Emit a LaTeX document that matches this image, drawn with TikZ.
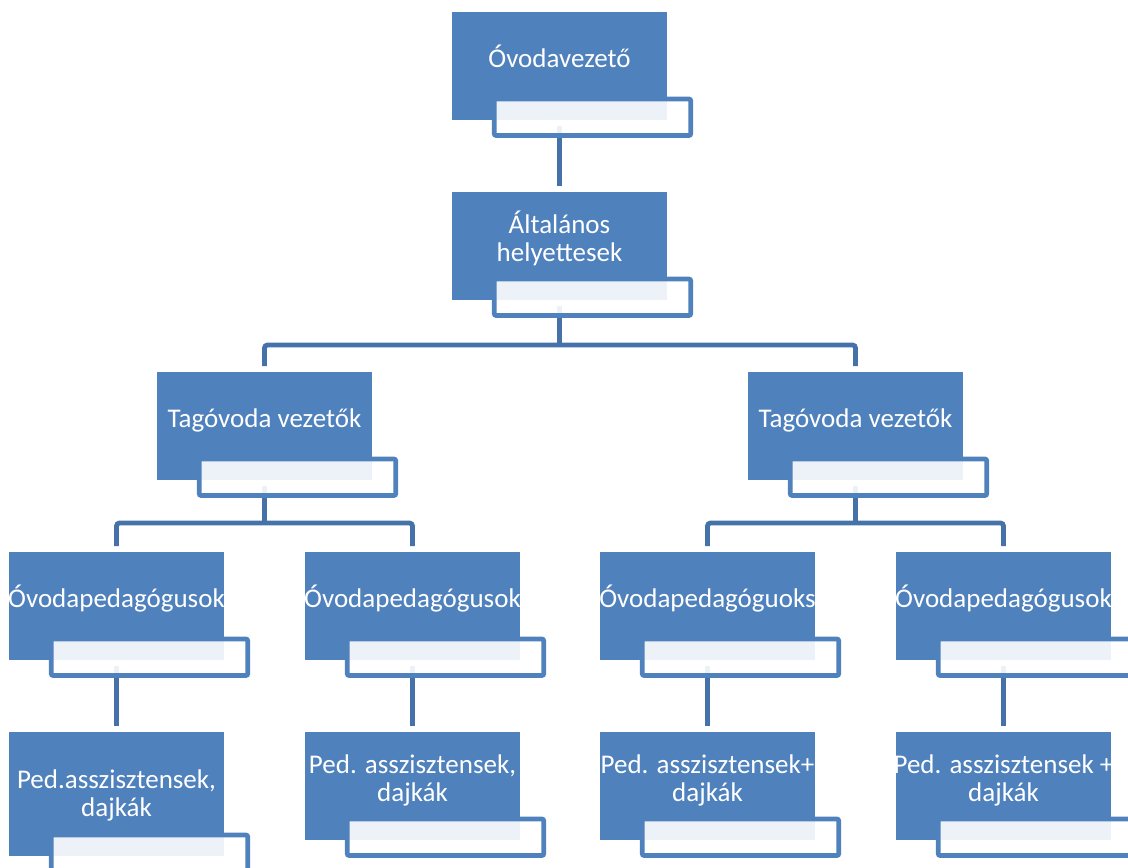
\documentclass[tikz,border=0pt]{standalone}
\usepackage{fontspec}
\setmainfont{Carlito}
\definecolor{boxblue}{HTML}{4F81BD}
\definecolor{edgeblue}{HTML}{4F81BD}
\definecolor{connblue}{HTML}{4672AA}
\begin{document}
\begin{tikzpicture}[x=1pt,y=-1pt,
  orgrect/.style={fill=boxblue, draw=none, minimum width=215pt, minimum height=108pt, inner sep=0pt, outer sep=0pt, anchor=north west},
  subbox/.style={draw=edgeblue, line width=4.8pt, fill=white, fill opacity=0.9, rounded corners=2pt, minimum width=196.5pt, minimum height=36.5pt, inner sep=0pt, outer sep=0pt, anchor=north west},
  conn/.style={draw=connblue, line width=4.8pt},
  lbl/.style={text=white, font=\fontsize{27}{28.5}\selectfont, align=center, inner sep=0pt, anchor=base}]
\useasboundingbox (0,0) rectangle (1128,868);
\clip (0,0) rectangle (1128,868);
% blue boxes
\node[orgrect] (A) at (452,12) {};
\node[orgrect] (B) at (452,192) {};
\node[orgrect] (C1) at (157,372) {};
\node[orgrect] (C2) at (748,372) {};
\node[orgrect] (D1) at (9,552) {};
\node[orgrect] (D2) at (305,552) {};
\node[orgrect] (D3) at (600,552) {};
\node[orgrect] (D4) at (896,552) {};
\node[orgrect, minimum height=124pt] (E1) at (9,732) {};
\node[orgrect] (E2) at (305,732) {};
\node[orgrect] (E3) at (600,732) {};
\node[orgrect] (E4) at (896,732) {};
% connectors
\coordinate (busB) at (559.5,345);
\coordinate (busC1) at (264.5,523);
\coordinate (busC2) at (855.5,523);
\draw[conn] ([yshift=-6pt]A.south) -- ([yshift=6pt]B.north);
\draw[conn] ([yshift=-6pt]B.south) -- (busB);
\draw[conn, rounded corners=3pt] ([yshift=6pt]C1.north) |- (busB) -| ([yshift=6pt]C2.north);
\draw[conn] ([yshift=-6pt]C1.south) -- (busC1);
\draw[conn, rounded corners=3pt] ([yshift=6pt]D1.north) |- (busC1) -| ([yshift=6pt]D2.north);
\draw[conn] ([yshift=-6pt]C2.south) -- (busC2);
\draw[conn, rounded corners=3pt] ([yshift=6pt]D3.north) |- (busC2) -| ([yshift=6pt]D4.north);
\draw[conn] ([yshift=-6pt]D1.south) -- ([yshift=6pt]E1.north);
\draw[conn] ([yshift=-6pt]D2.south) -- ([yshift=6pt]E2.north);
\draw[conn] ([yshift=-6pt]D3.south) -- ([yshift=6pt]E3.north);
\draw[conn] ([yshift=-6pt]D4.south) -- ([yshift=6pt]E4.north);
% white sub boxes
\foreach \n in {A,B,C1,C2,D1,D2,D3,D4,E1,E2,E3,E4}{
  \node[subbox] (\n s) at ([xshift=42.25pt,yshift=21pt]\n.south west) {};
}
% labels
\node[lbl] (At) at ([yshift=-55pt]A.north) {Óvodavezető};
\node[lbl] (Bt) at ([yshift=-69.5pt]B.north) {Általános\\helyettesek};
\node[lbl] (C1t) at ([yshift=-55pt]C1.north) {Tagóvoda vezetők};
\node[lbl] (C2t) at ([yshift=-55pt]C2.north) {Tagóvoda vezetők};
\node[lbl] (D1t) at ([yshift=-55pt]D1.north) {Óvodapedagógusok};
\node[lbl] (D2t) at ([yshift=-55pt]D2.north) {Óvodapedagógusok};
\node[lbl] (D3t) at ([yshift=-55pt]D3.north) {Óvodapedagóguoks};
\node[lbl] (D4t) at ([yshift=-55pt]D4.north) {Óvodapedagógusok};
\node[lbl] (E1t) at ([yshift=-84.5pt]E1.north) {Ped.asszisztensek,\\dajkák};
\node[lbl] (E2t) at ([yshift=-69.5pt]E2.north) {Ped. asszisztensek,\\dajkák};
\node[lbl] (E3t) at ([yshift=-69.5pt]E3.north) {Ped. asszisztensek+\\dajkák};
\node[lbl] (E4t) at ([yshift=-69.5pt]E4.north) {Ped. asszisztensek +\\dajkák};
\end{tikzpicture}
\end{document}
